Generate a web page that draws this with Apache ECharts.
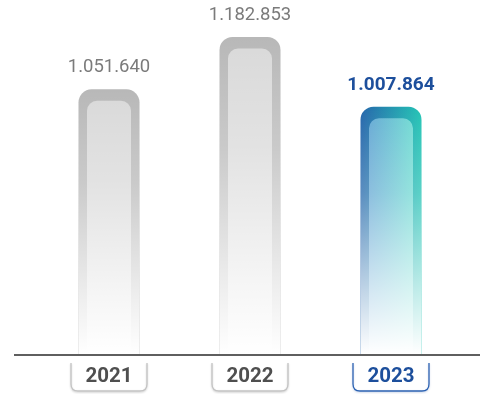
<!DOCTYPE html>
<html><head><meta charset="utf-8">
<script src="https://cdn.jsdelivr.net/npm/echarts@6/dist/echarts.min.js"></script>
<style>html,body{margin:0;padding:0;background:#fff}#c{width:480px;height:394px}</style>
</head><body><div id="c"></div>
<script>
const years = ['2021', '2022', '2023'];
const values = [1051640, 1182853, 1007864];
const highlight = [false, false, true];
const yMin = 388000, yMax = 1228000;

function fmt(v){ return String(v).replace(/\B(?=(\d{3})+(?!\d))/g, '.'); }

const chart = echarts.init(document.getElementById('c'), null, {renderer:'canvas'});
const G = echarts.graphic;
const fade = new G.LinearGradient(0,0,0,1,[
  {offset:0, color:'rgba(255,255,255,0)'},
  {offset:0.35, color:'rgba(255,255,255,0.25)'},
  {offset:0.75, color:'rgba(255,255,255,0.72)'},
  {offset:1, color:'rgba(255,255,255,1)'}]);

function renderItem(params, api){
  const i = api.value(0), v = api.value(1);
  const top = api.coord([i, v]);
  const base = api.coord([i, yMin]);
  const cx = top[0], bw = 61, h = base[1]-top[1];
  const x0 = cx - bw/2;
  const hi = highlight[i];
  const outerFill = hi ? new G.LinearGradient(0,0,1,0,[{offset:0,color:'#2566ab'},{offset:1,color:'#24c4b5'}]) : '#b8b8b8';
  const innerFill = hi ? new G.LinearGradient(0,0,1,0,[{offset:0,color:'#66a9d4'},{offset:1,color:'#72dbd3'}]) : '#d9d9d9';
  const inset = 8.5, insetTop = 11.5;
  const children = [
    {type:'rect', shape:{x:x0, y:top[1], width:bw, height:h, r:[13,13,0,0]}, style:{fill:outerFill}},
    {type:'rect', shape:{x:x0+inset, y:top[1]+insetTop, width:bw-2*inset, height:h-insetTop, r:[10,10,0,0]}, style:{fill:innerFill}},
    {type:'rect', shape:{x:x0, y:top[1], width:bw, height:h, r:[13,13,0,0]}, style:{fill:fade}},
    {type:'text', style:{text:fmt(v), x:cx, y:top[1]-12, align:'center', verticalAlign:'bottom',
      fontFamily:'Roboto', fontSize: hi ? 19 : 18.5, fontWeight: hi ? 'bold' : 'normal', fill: hi ? '#1d4f9c' : '#7b7b7b'}},
  ];
  const bx1 = cx-38, bx2 = cx+38, by0 = base[1]+9, by1 = base[1]+37, r = 7;
  children.push({type:'path', shape:{pathData:`M${bx1} ${by0} L${bx1} ${by1-r} Q${bx1} ${by1} ${bx1+r} ${by1} L${bx2-r} ${by1} Q${bx2} ${by1} ${bx2} ${by1-r} L${bx2} ${by0}`},
    style:{fill:null, stroke: hi ? '#2d63b3' : '#c4c4c4', lineWidth:1.3, shadowBlur:2, shadowOffsetY:1, shadowColor: hi ? 'rgba(30,80,160,0.25)' : 'rgba(0,0,0,0.2)'}});
  return {type:'group', children};
}

chart.setOption({
  animation:false,
  grid:{left:38.5, right:18.5, top:19, bottom:40},
  xAxis:{type:'category', data:years, axisLine:{show:false}, axisTick:{show:false},
    axisLabel:{margin:12, fontFamily:'Roboto', fontWeight:'bold', fontSize:20.5,
      color:(val, idx)=> highlight[idx] ? '#1d4f9c' : '#4f4f4f'}},
  yAxis:{type:'value', min:yMin, max:yMax, show:false, splitLine:{show:false}},
  series:[{type:'custom', renderItem, clip:false, data: values.map((v,i)=>[i,v]), encode:{x:0,y:1}}],
  graphic:[{type:'line', shape:{x1:14, y1:355, x2:480, y2:355}, style:{stroke:'#2a2a2a', lineWidth:1.6}, z:10}]
});
</script></body></html>
